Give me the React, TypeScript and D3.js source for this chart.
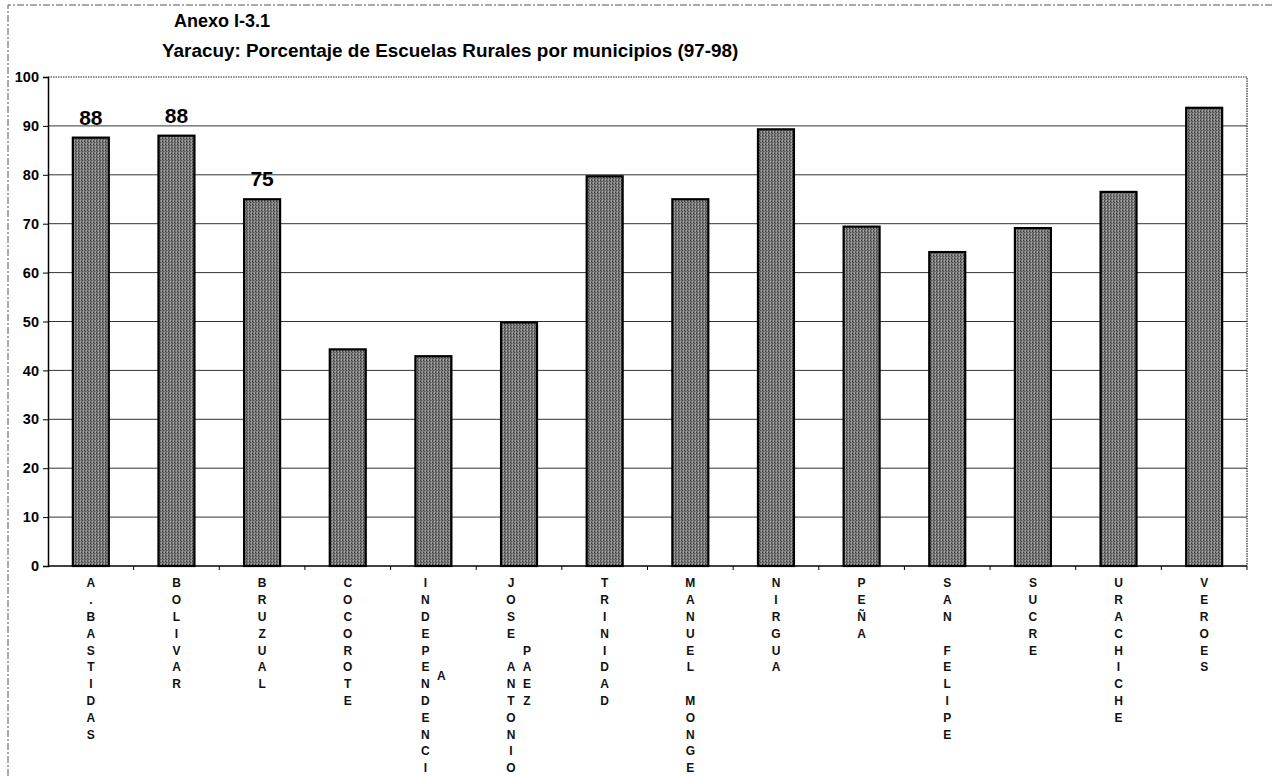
import * as React from 'react';
import {useEffect, useRef} from 'react';
import * as d3 from 'd3';

const categories = [
  'A.BASTIDAS', 'BOLIVAR', 'BRUZUAL', 'COCOROTE', 'INDEPENDENCIA', 'JOSE ANTONIO PAEZ',
  'TRINIDAD', 'MANUEL MONGE', 'NIRGUA', 'PEÑA', 'SAN FELIPE', 'SUCRE', 'URACHICHE', 'VEROES'
];
const values = [87.6, 88.0, 75.0, 44.3, 42.9, 49.8, 79.7, 75.0, 89.3, 69.4, 64.2, 69.1, 76.5, 93.7];
const labeled = ['A.BASTIDAS', 'BOLIVAR', 'BRUZUAL'];
const yTicks = [0, 10, 20, 30, 40, 50, 60, 70, 80, 90, 100];
const heading = 'Anexo I-3.1';
const title = 'Yaracuy: Porcentaje de Escuelas Rurales por municipios (97-98)';

const W = 1273;
const H = 776;
const plot = {left: 48, right: 1247, top: 77, bottom: 566};
const FONT = '"Liberation Sans", Arial, sans-serif';

// Excel stacks the letters and wraps words into extra columns (12 rows max).
const wrapColumns = (name: string, maxRows = 12) => {
  const cols: string[][] = [];
  let cur: string[] = [];
  name.split(' ').forEach(word => {
    let chars = [...word];
    const candidate = cur.length ? [...cur, ' ', ...chars] : chars;
    if (candidate.length <= maxRows) {
      cur = candidate;
      return;
    }
    if (cur.length) cols.push(cur);
    while (chars.length > maxRows) {
      cols.push(chars.slice(0, maxRows));
      chars = chars.slice(maxRows);
    }
    cur = chars;
  });
  if (cur.length) cols.push(cur);
  return cols;
};

const BarChart = () => {
  const ref = useRef<SVGSVGElement>(null);

  useEffect(() => {
    const svg = d3.select(ref.current);
    svg.selectAll('*').remove();

    const x = d3.scaleBand<string>()
      .domain(categories)
      .range([plot.left, plot.right])
      .paddingInner(0.58)
      .paddingOuter(0.29);

    const y = d3.scaleLinear()
      .domain([0, 100])
      .range([plot.bottom, plot.top]);

    // halftone-ish fill like the scanned print
    const defs = svg.append('defs');
    const pat = defs.append('pattern')
      .attr('id', 'dither')
      .attr('patternUnits', 'userSpaceOnUse')
      .attr('width', 3)
      .attr('height', 3);
    pat.append('rect').attr('width', 3).attr('height', 3).attr('fill', '#7a7a7a');
    [[0, 0, '#3e3e3e'], [1, 1, '#505050'], [2, 2, '#a6a6a6'], [2, 0, '#9c9c9c'], [0, 2, '#5e5e5e']]
      .forEach(([px, py, c]) => {
        pat.append('rect').attr('x', px).attr('y', py).attr('width', 1).attr('height', 1).attr('fill', c as string);
      });

    svg.append('rect')
      .attr('width', W)
      .attr('height', H)
      .attr('fill', '#fff');

    // outer frame of the scanned page
    svg.append('path')
      .attr('d', `M8,${H} V5 H${W}`)
      .attr('fill', 'none')
      .attr('stroke', '#555')
      .attr('stroke-width', 1)
      .attr('stroke-dasharray', '7,2,2,2');

    svg.append('text')
      .attr('x', 174)
      .attr('y', 27)
      .attr('font-family', FONT)
      .attr('font-weight', 'bold')
      .attr('font-size', 18)
      .text(heading);

    svg.append('text')
      .attr('x', 162)
      .attr('y', 57)
      .attr('font-family', FONT)
      .attr('font-weight', 'bold')
      .attr('font-size', 18.9)
      .text(title);

    // gridlines
    svg.append('g')
      .selectAll('line')
      .data(yTicks.filter(t => t > 0 && t < 100))
      .join('line')
      .attr('x1', plot.left)
      .attr('x2', plot.right)
      .attr('y1', d => y(d))
      .attr('y2', d => y(d))
      .attr('stroke', '#333')
      .attr('stroke-width', 1);

    // plot area border (dotted top/right)
    svg.append('path')
      .attr('d', `M${plot.left},${plot.top} H${plot.right} V${plot.bottom}`)
      .attr('fill', 'none')
      .attr('stroke', '#222')
      .attr('stroke-width', 1.2)
      .attr('stroke-dasharray', '1.5,1');

    // bars
    svg.append('g')
      .selectAll('rect')
      .data(categories)
      .join('rect')
      .attr('x', d => x(d)!)
      .attr('y', (d, i) => y(values[i]))
      .attr('width', x.bandwidth())
      .attr('height', (d, i) => y(0) - y(values[i]))
      .attr('fill', 'url(#dither)')
      .attr('stroke', '#000')
      .attr('stroke-width', 2.2);

    // data labels
    svg.append('g')
      .selectAll('text')
      .data(categories.filter(c => labeled.includes(c)))
      .join('text')
      .attr('x', d => x(d)! + x.bandwidth() / 2)
      .attr('y', d => y(values[categories.indexOf(d)]) - 13)
      .attr('text-anchor', 'middle')
      .attr('font-family', FONT)
      .attr('font-weight', 'bold')
      .attr('font-size', 21)
      .text(d => Math.round(values[categories.indexOf(d)]));

    // y axis
    const yAxis = svg.append('g')
      .attr('transform', `translate(${plot.left},0)`)
      .call(d3.axisLeft(y).tickValues(yTicks).tickSize(5).tickPadding(4));
    yAxis.select('.domain').attr('stroke', '#000').attr('stroke-width', 1.5);
    yAxis.selectAll('.tick line').attr('stroke', '#000');
    yAxis.selectAll('.tick text')
      .attr('font-family', FONT)
      .attr('font-weight', 'bold')
      .attr('font-size', 14.5)
      .attr('fill', '#000');

    // x axis line + ticks at band boundaries
    svg.append('line')
      .attr('x1', plot.left)
      .attr('x2', plot.right)
      .attr('y1', y(0))
      .attr('y2', y(0))
      .attr('stroke', '#000')
      .attr('stroke-width', 1.5);

    svg.append('g')
      .selectAll('line')
      .data(categories)
      .join('line')
      .attr('x1', d => x(d)! + x.bandwidth() / 2 + x.step() / 2)
      .attr('x2', d => x(d)! + x.bandwidth() / 2 + x.step() / 2)
      .attr('y1', y(0))
      .attr('y2', y(0) + 4)
      .attr('stroke', '#000');

    // stacked category labels
    const rowH = 16.8;
    const colW = 16;
    const labelTop = y(0) + 17;
    const cat = svg.append('g')
      .attr('font-family', FONT)
      .attr('font-size', 12)
      .attr('font-weight', 'bold')
      .attr('fill', '#111')
      .attr('text-anchor', 'middle');

    categories.forEach(name => {
      const cols = wrapColumns(name);
      const maxLen = d3.max(cols, c => c.length) || 0;
      const cx = x(name)! + x.bandwidth() / 2;
      cols.forEach((col, j) => {
        const colX = cx + (j - (cols.length - 1) / 2) * colW;
        const off = (maxLen - col.length) / 2;
        col.forEach((ch, i) => {
          if (ch === ' ') return;
          cat.append('text')
            .attr('x', colX)
            .attr('y', labelTop + (off + i) * rowH)
            .attr('dy', '0.36em')
            .text(ch);
        });
      });
    });
  }, []);

  return (
    <svg
      ref={ref}
      width={W}
      height={H}
      style={{position: 'absolute', left: 0, top: 0, display: 'block'}}
    />
  );
};

export default function App() {
  return <BarChart/>;
}
